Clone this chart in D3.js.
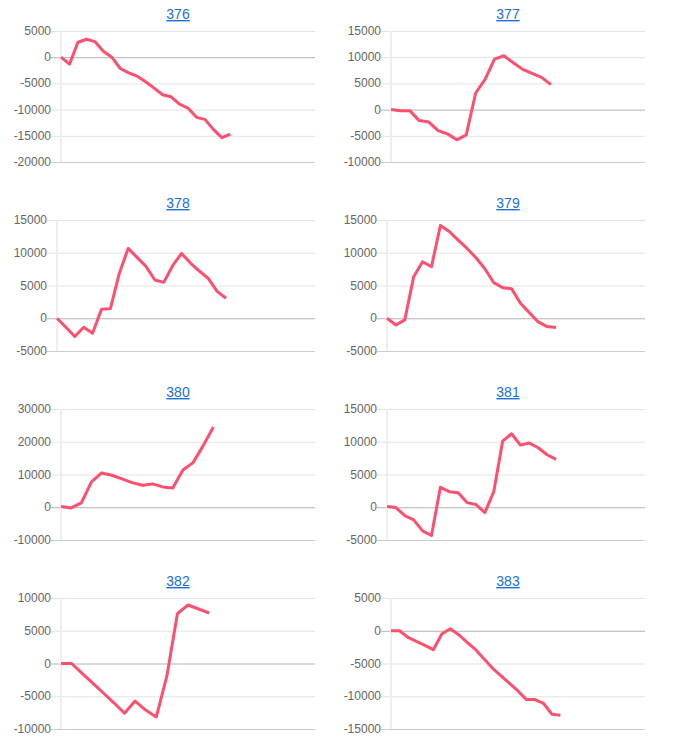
<!DOCTYPE html>
<html>
  <head>
    <meta charset="utf-8">
    <title>Small multiples</title>
    <script src="https://d3js.org/d3.v7.min.js"></script>
    <style>
      body { margin: 0; background: #fff; }
      svg { display: block; font-family: "Liberation Sans", Arial, sans-serif; }
      .title { font-size: 14px; fill: #1a6fd8; text-decoration: underline; }
      .tick-label { font-size: 12px; fill: #666; }
    </style>
  </head>
  <body>
    <div id="chart"></div>
    <script>

      // chart ids shown as titles
      var names = ["376", "377", "378", "379", "380", "381", "382", "383"];

      // number of days on each x axis
      var daySpans = [31, 28, 30, 30, 26, 30, 25, 31];

      // y axis ticks per chart
      var yTicks = [
        [5000, 0, -5000, -10000, -15000, -20000],
        [15000, 10000, 5000, 0, -5000, -10000],
        [15000, 10000, 5000, 0, -5000],
        [15000, 10000, 5000, 0, -5000],
        [30000, 20000, 10000, 0, -10000],
        [15000, 10000, 5000, 0, -5000],
        [10000, 5000, 0, -5000, -10000],
        [5000, 0, -5000, -10000, -15000]
      ];

      // daily values
      var s376 = [0, -1330, 2850, 3430, 2980, 1140, 0, -2160, -2980, -3620, -4700, -5900, -7170, -7550, -8950, -9700, -11480, -11860, -13770, -15350, -14660];
      var s377 = [0, -200, -200, -2100, -2350, -4000, -4630, -5770, -4820, 3170, 5770, 9640, 10280, 8950, 7680, 6920, 6160, 4760];
      var s378 = [0, -1370, -2790, -1370, -2280, 1370, 1470, 6850, 10660, 9290, 7920, 5840, 5480, 8020, 9900, 8430, 7210, 6090, 4110, 3050];
      var s379 = [0, -1020, -250, 6350, 8630, 7870, 14160, 13250, 11930, 10660, 9240, 7560, 5430, 4670, 4520, 2280, 860, -560, -1270, -1420];
      var s380 = [200, -200, 1320, 7730, 10480, 9770, 8650, 7530, 6710, 7120, 6210, 5900, 11390, 13630, 18820, 24520];
      var s381 = [100, -50, -1270, -1930, -3600, -4310, 3040, 2380, 2230, 710, 410, -810, 2380, 10100, 11220, 9490, 9800, 9090, 8020, 7310];
      var s382 = [0, 0, -1500, -3000, -4500, -6000, -7600, -5740, -7110, -8170, -1930, 7610, 8930, 8320, 7710];
      var s383 = [0, 0, -1020, -1620, -2230, -2890, -510, 300, -610, -1780, -2890, -4310, -5740, -6900, -8020, -9190, -10510, -10510, -11070, -12740, -12890];

      var series = [s376, s377, s378, s379, s380, s381, s382, s383];

      var width = 679, height = 745;
      var colX = [0, 330];
      var rowY = [0, 189, 378, 567];

      var svg = d3.select("#chart").append("svg")
        .attr("width", width)
        .attr("height", height);

      names.forEach(function (name, i) {
        var cx = colX[i % 2];
        var cy = rowY[Math.floor(i / 2)];
        var ticks = yTicks[i];
        var g = svg.append("g").attr("transform", "translate(" + cx + "," + cy + ")");

        // title link
        g.append("a").attr("href", "#")
          .append("text")
            .attr("class", "title")
            .attr("x", 178)
            .attr("y", 19)
            .attr("text-anchor", "middle")
            .text(name);

        // labels first, so we can measure them for the plot's left edge
        var labels = g.selectAll(".tick-label").data(ticks).enter()
          .append("text")
            .attr("class", "tick-label")
            .attr("text-anchor", "end")
            .text(function (d) { return d; });

        var maxW = d3.max(labels.nodes(), function (n) { return n.getComputedTextLength(); });
        var left = 14 + Math.round(maxW) + 10;
        var right = 315;
        var top = 31, bottom = 162;

        var x = d3.scaleLinear().domain([0, daySpans[i] - 1]).range([left, right]);
        var y = d3.scaleLinear().domain(d3.extent(ticks)).range([bottom, top]);

        labels
          .attr("x", left - 10)
          .attr("y", function (d) { return y(d) + 4; });

        // gridlines
        g.selectAll(".grid").data(ticks).enter()
          .append("line")
            .attr("x1", left - 10)
            .attr("x2", right)
            .attr("y1", function (d) { return y(d) + 0.5; })
            .attr("y2", function (d) { return y(d) + 0.5; })
            .attr("stroke", function (d, k) {
              if (d === 0) return "#b3b3b3";
              if (k === ticks.length - 1) return "#cccccc";
              return "#e3e3e3";
            })
            .attr("stroke-width", 1);

        // left edge of plot area
        g.append("line")
          .attr("x1", left).attr("x2", left)
          .attr("y1", top).attr("y2", bottom)
          .attr("stroke", "#eeeeee")
          .attr("stroke-width", 2);

        var line = d3.line()
          .x(function (d, k) { return x(k); })
          .y(function (d) { return y(d); });

        g.append("path")
          .datum(series[i])
          .attr("d", line)
          .attr("fill", "none")
          .attr("stroke", "#ff4f6f")
          .attr("stroke-width", 3)
          .attr("stroke-linejoin", "round");
      });

    </script>
  </body>
</html>
